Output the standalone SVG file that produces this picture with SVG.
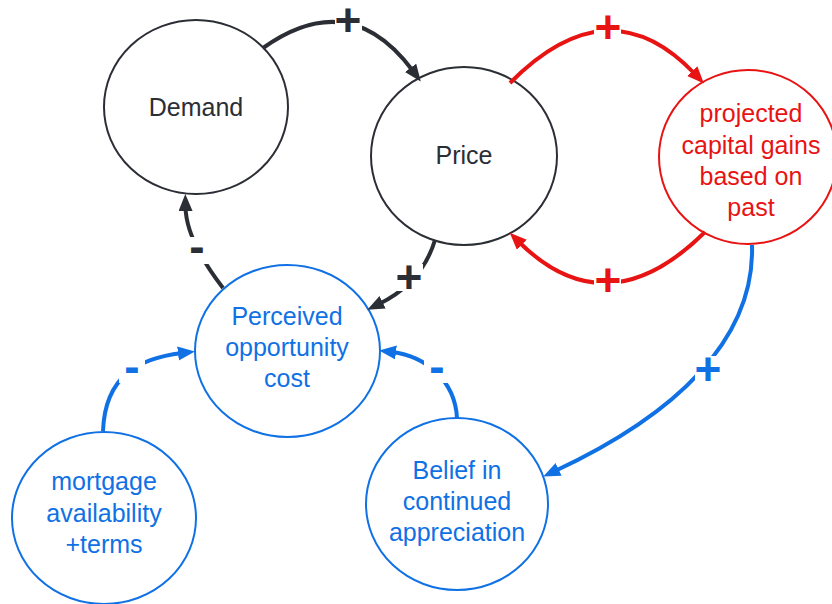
<svg xmlns="http://www.w3.org/2000/svg" width="832" height="604" viewBox="0 0 832 604">
  <defs>
    <style>
      .node-dark { fill: #ffffff; stroke: #2b2e35; stroke-width: 2; }
      .node-red { fill: #ffffff; stroke: #e81313; stroke-width: 2; }
      .node-blue { fill: #ffffff; stroke: #1071e5; stroke-width: 2; }
      .txt { font-family: "Liberation Sans", Arial, sans-serif; font-size: 25px; text-anchor: middle; }
      .t-dark { fill: #2b2e35; }
      .t-red { fill: #e81313; }
      .t-blue { fill: #1071e5; }
      .link { fill: none; stroke-width: 4; stroke-linecap: butt; }
      .l-dark { stroke: #2b2e35; marker-end: url(#arrow-dark); }
      .l-red { stroke: #e81313; marker-end: url(#arrow-red); }
      .l-blue { stroke: #1071e5; marker-end: url(#arrow-blue); }
      .sign { font-family: "Liberation Sans", Arial, sans-serif; font-size: 46px; font-weight: bold; text-anchor: middle; }
      .gap { fill: #ffffff; }
    </style>
    <marker id="arrow-dark" markerUnits="userSpaceOnUse" markerWidth="20" markerHeight="16" refX="4" refY="7" orient="auto">
      <path d="M0,0 L17,7 L0,14 z" fill="#2b2e35"/>
    </marker>
    <marker id="arrow-red" markerUnits="userSpaceOnUse" markerWidth="20" markerHeight="16" refX="4" refY="7" orient="auto">
      <path d="M0,0 L17,7 L0,14 z" fill="#e81313"/>
    </marker>
    <marker id="arrow-blue" markerUnits="userSpaceOnUse" markerWidth="20" markerHeight="16" refX="4" refY="7" orient="auto">
      <path d="M0,0 L17,7 L0,14 z" fill="#1071e5"/>
    </marker>
  </defs>

  <rect width="832" height="604" fill="#ffffff"/>

  <!-- nodes -->
  <g id="demand">
    <ellipse class="node-dark" cx="196" cy="107" rx="92" ry="87"/>
    <text class="txt t-dark" x="196" y="116">Demand</text>
  </g>
  <g id="price">
    <ellipse class="node-dark" cx="464" cy="156" rx="93" ry="89"/>
    <text class="txt t-dark" x="464" y="164">Price</text>
  </g>
  <g id="projected-gains">
    <ellipse class="node-red" cx="748" cy="157" rx="89" ry="87"/>
    <text class="txt t-red" x="751" y="122">projected</text>
    <text class="txt t-red" x="751" y="154">capital gains</text>
    <text class="txt t-red" x="751" y="185">based on</text>
    <text class="txt t-red" x="751" y="216">past</text>
  </g>
  <g id="opportunity-cost">
    <ellipse class="node-blue" cx="287.5" cy="351" rx="92.5" ry="86"/>
    <text class="txt t-blue" x="287" y="325">Perceived</text>
    <text class="txt t-blue" x="287" y="356">opportunity</text>
    <text class="txt t-blue" x="287" y="387">cost</text>
  </g>
  <g id="mortgage">
    <ellipse class="node-blue" cx="104" cy="518" rx="92" ry="86"/>
    <text class="txt t-blue" x="104" y="490">mortgage</text>
    <text class="txt t-blue" x="104" y="522">availability</text>
    <text class="txt t-blue" x="104" y="553">+terms</text>
  </g>
  <g id="belief">
    <ellipse class="node-blue" cx="457" cy="504" rx="91" ry="86"/>
    <text class="txt t-blue" x="457" y="479">Belief in</text>
    <text class="txt t-blue" x="457" y="510">continued</text>
    <text class="txt t-blue" x="457" y="541">appreciation</text>
  </g>

  <!-- connectors with polarity signs -->
  <g id="connectors">
    <path class="link l-dark" d="M263,48 Q350,-14 413,71"/>
    <rect class="gap" x="335" y="7" width="27" height="27"/>
    <text class="sign t-dark" x="348" y="36">+</text>

    <path class="link l-red" d="M510,83 Q609,-17 695,74"/>
    <rect class="gap" x="594" y="14" width="27" height="27"/>
    <text class="sign t-red" x="608" y="43">+</text>

    <path class="link l-red" d="M705,232 Q607,329 519,242"/>
    <rect class="gap" x="594" y="266" width="27" height="27"/>
    <text class="sign t-red" x="608" y="296">+</text>

    <path class="link l-dark" d="M435,240 Q422,283 379,304"/>
    <rect class="gap" x="396" y="264" width="27" height="27"/>
    <text class="sign t-dark" x="409" y="293">+</text>

    <path class="link l-dark" d="M223,288 Q186,240 185.5,207"/>
    <rect class="gap" x="184" y="237" width="26" height="27"/>
    <text class="sign t-dark" x="197" y="262">-</text>

    <path class="link l-blue" d="M103,431 C105,375 140,358 182,353"/>
    <rect class="gap" x="119" y="357" width="26" height="26"/>
    <text class="sign t-blue" x="132" y="382">-</text>

    <path class="link l-blue" d="M457,418 C455,380 425,356 392,352"/>
    <rect class="gap" x="424" y="357" width="26" height="26"/>
    <text class="sign t-blue" x="437" y="382">-</text>

    <path class="link l-blue" d="M752,245 C755,340 675,415 555,471"/>
    <rect class="gap" x="695" y="356" width="27" height="27"/>
    <text class="sign t-blue" x="708" y="385">+</text>
  </g>
</svg>
